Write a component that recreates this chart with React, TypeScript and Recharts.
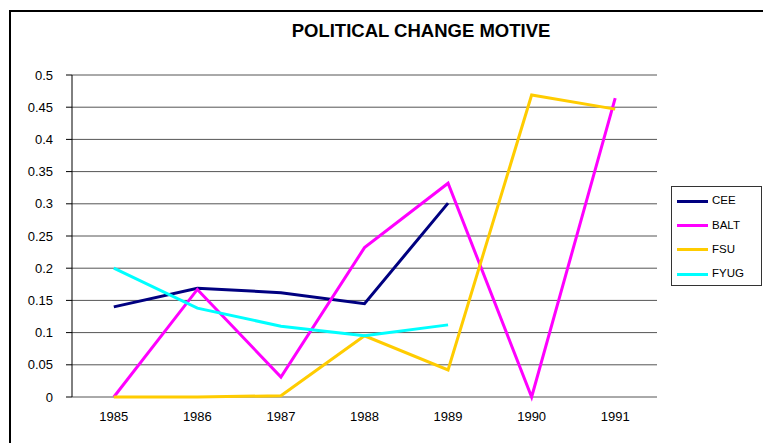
import {
  LineChart, Line, XAxis, YAxis, CartesianGrid, Legend,
} from 'recharts';

const years = ['1985', '1986', '1987', '1988', '1989', '1990', '1991'];
const cee = [0.14, 0.169, 0.162, 0.145, 0.301, null, null];
const balt = [0, 0.167, 0.031, 0.232, 0.332, 0, 0.464];
const fsu = [0, 0, 0.002, 0.095, 0.042, 0.469, 0.447];
const fyug = [0.2, 0.138, 0.11, 0.095, 0.112, null, null];
const yTicks = [0, 0.05, 0.1, 0.15, 0.2, 0.25, 0.3, 0.35, 0.4, 0.45, 0.5];
const edgeTicks = [-0.5, 0.5, 1.5, 2.5, 3.5, 4.5, 5.5, 6.5];

const series = [
  { key: 'CEE', values: cee, color: '#000080' },
  { key: 'BALT', values: balt, color: '#FF00FF' },
  { key: 'FSU', values: fsu, color: '#FFCC00' },
  { key: 'FYUG', values: fyug, color: '#00FFFF' },
];

const data = years.map((year, i) => {
  const row: Record<string, string | number | null> = { year, edge: i };
  series.forEach((s) => { row[s.key] = s.values[i]; });
  return row;
});

const FONT = '"Liberation Sans", Arial, sans-serif';

// caixa da legenda, estilo Excel
function LegendBox() {
  return (
    <div style={{
      width: 91, height: 100, border: '1px solid #333', background: '#fff',
      boxSizing: 'border-box', paddingTop: 2, fontFamily: FONT,
    }}>
      {series.map((s) => (
        <div key={s.key} style={{ display: 'flex', alignItems: 'center', height: 24.3 }}>
          <span style={{ display: 'inline-block', width: 31, height: 3, background: s.color, marginLeft: 5 }} />
          <span style={{ fontSize: 11.5, marginLeft: 4, color: '#000', lineHeight: 1 }}>{s.key}</span>
        </div>
      ))}
    </div>
  );
}

export default function App() {
  return (
    <div style={{
      position: 'absolute', left: 0, top: 0, width: 763, height: 443,
      overflow: 'hidden', background: '#fff', fontFamily: FONT,
    }}>
      <div style={{
        position: 'absolute', left: 9, top: 10, width: 800, height: 500,
        borderLeft: '2px solid #000', borderTop: '2px solid #000',
      }} />
      <div style={{
        position: 'absolute', left: 0, top: 20, width: 842, textAlign: 'center',
        fontSize: 18.5, fontWeight: 'bold', color: '#000', lineHeight: 'normal',
      }}>
        POLITICAL CHANGE MOTIVE
      </div>
      <div style={{ position: 'absolute', left: 0, top: 0 }}>
        <LineChart
          width={763}
          height={443}
          data={data}
          margin={{ top: 75, right: 106, bottom: 16, left: 12 }}
        >
          <CartesianGrid vertical={false} stroke="#555" strokeWidth={1} />
          <XAxis
            xAxisId="edges"
            dataKey="edge"
            type="number"
            domain={[-0.5, 6.5]}
            ticks={edgeTicks}
            height={0}
            tick={() => <g />}
            tickSize={5}
            stroke="#000"
            axisLine={{ stroke: '#000' }}
          />
          <XAxis
            dataKey="year"
            padding={{ left: 41.8, right: 41.8 }}
            axisLine={false}
            tickLine={false}
            height={30}
            tick={{ fontSize: 13, fill: '#000', fontFamily: FONT }}
            tickMargin={9}
            interval={0}
          />
          <YAxis
            domain={[0, 0.5]}
            ticks={yTicks}
            width={60}
            interval={0}
            tick={{ fontSize: 13, fill: '#000', fontFamily: FONT }}
            tickSize={6}
            tickMargin={13}
            stroke="#000"
          />
          <YAxis
            yAxisId="frame"
            orientation="right"
            width={0}
            tick={false}
            tickLine={false}
            axisLine={{ stroke: '#808080' }}
          />
          <Legend
            layout="vertical"
            align="center"
            verticalAlign="middle"
            wrapperStyle={{ left: 671, top: 186, width: 91 }}
            content={() => <LegendBox />}
          />
          {series.map((s) => (
            <Line
              key={s.key}
              dataKey={s.key}
              stroke={s.color}
              strokeWidth={3}
              dot={false}
              activeDot={false}
              type="linear"
              isAnimationActive={false}
            />
          ))}
        </LineChart>
      </div>
    </div>
  );
}
